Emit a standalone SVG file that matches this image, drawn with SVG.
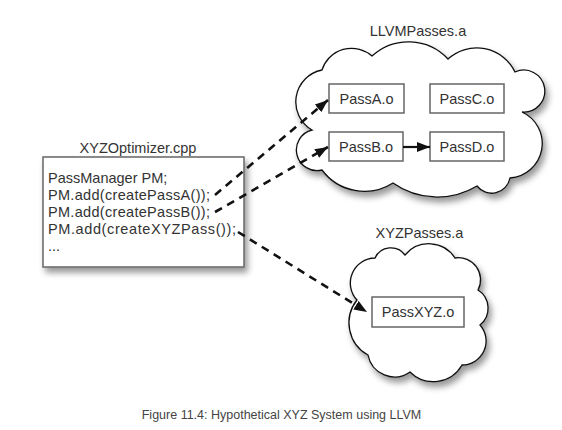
<svg xmlns="http://www.w3.org/2000/svg" width="562" height="430" viewBox="0 0 562 430">
<style>
text{font-family:"Liberation Sans",Arial,sans-serif;fill:#333;}
.lbl{font-size:14.5px;}
.ctr{text-anchor:middle;}
.box{fill:#fff;stroke:#666;stroke-width:1.5;}
.cloud{fill:#fff;stroke:#111;stroke-width:1.3;}
.dash{fill:none;stroke:#111;stroke-width:2.6;stroke-dasharray:8 6;}
.solid{fill:none;stroke:#111;stroke-width:2.2;}
.cap{font-size:12.5px;fill:#444;}
</style>
<defs>
<filter id="sh" x="-10%" y="-10%" width="130%" height="140%">
<feDropShadow dx="3" dy="5" stdDeviation="3" flood-color="#000" flood-opacity="0.4"/>
</filter>
<marker id="ah" markerUnits="userSpaceOnUse" markerWidth="14" markerHeight="12" refX="13" refY="5" orient="auto">
<path d="M0,0 L13,5 L0,10 z" fill="#111"/>
</marker>
</defs>
<rect width="562" height="430" fill="#fff"/>

<g id="llvm-passes">
<path class="cloud" filter="url(#sh)" d="M312,130 A32.5,32.5 0 0 1 322,70 A31,31 0 0 1 372,56 A54,54 0 0 1 448,59 A42.5,42.5 0 0 1 515,72 A21,21 0 1 1 522,112 A34.6,34.6 0 0 1 510,178 A18.6,18.6 0 0 1 477,186 A77,77 0 0 1 393,183 A53,53 0 0 1 322,170 A20.6,20.6 0 0 1 312,130 Z"/>
<text class="lbl ctr" x="418" y="36">LLVMPasses.a</text>
</g>

<g id="passA">
<rect class="box" x="329" y="84" width="75" height="29"/>
<text class="lbl ctr" x="366.5" y="103.5">PassA.o</text>
</g>
<g id="passC">
<rect class="box" x="430" y="84" width="74" height="29"/>
<text class="lbl ctr" x="467" y="103.5">PassC.o</text>
</g>
<g id="passB">
<rect class="box" x="329" y="132" width="74" height="29"/>
<text class="lbl ctr" x="366" y="151.5">PassB.o</text>
</g>
<g id="passD">
<rect class="box" x="430" y="132" width="74" height="29"/>
<text class="lbl ctr" x="467" y="151.5">PassD.o</text>
</g>

<g id="xyz-passes">
<path class="cloud" filter="url(#sh)" d="M357,300 A25,25 0 0 1 375,258 A17.5,17.5 0 0 1 405,255 A31,31 0 0 1 455,258 A22,22 0 0 1 478,290 A21.5,21.5 0 0 1 480,325 A24,24 0 0 1 462,365 A33,33 0 0 1 410,372 A27,27 0 0 1 368,355 A36.7,36.7 0 0 1 357,300 Z"/>
<text class="lbl ctr" x="419.5" y="238">XYZPasses.a</text>
</g>
<g id="passXYZ">
<rect class="box" x="372" y="297" width="92" height="30"/>
<text class="lbl ctr" x="418" y="317">PassXYZ.o</text>
</g>

<g id="xyz-optimizer">
<rect class="box" filter="url(#sh)" x="43" y="157" width="201" height="110"/>
<text class="lbl ctr" x="138" y="153">XYZOptimizer.cpp</text>
<text class="lbl" x="48" y="183">PassManager PM;</text>
<text class="lbl" x="48" y="200" textLength="162" lengthAdjust="spacing">PM.add(createPassA());</text>
<text class="lbl" x="48" y="217" textLength="162" lengthAdjust="spacing">PM.add(createPassB());</text>
<text class="lbl" x="48" y="234" textLength="188" lengthAdjust="spacing">PM.add(createXYZPass());</text>
<text class="lbl" x="48" y="251">...</text>
</g>

<g id="connectors">
<path class="dash" d="M215,195 L328,100" marker-end="url(#ah)"/>
<path class="dash" d="M215,212 L328,147" marker-end="url(#ah)"/>
<path class="dash" d="M238,232 L367,312" marker-end="url(#ah)"/>
<path class="solid" d="M403,147 L430,147" marker-end="url(#ah)"/>
</g>

<text class="cap ctr" x="281.5" y="419">Figure 11.4: Hypothetical XYZ System using LLVM</text>
</svg>
